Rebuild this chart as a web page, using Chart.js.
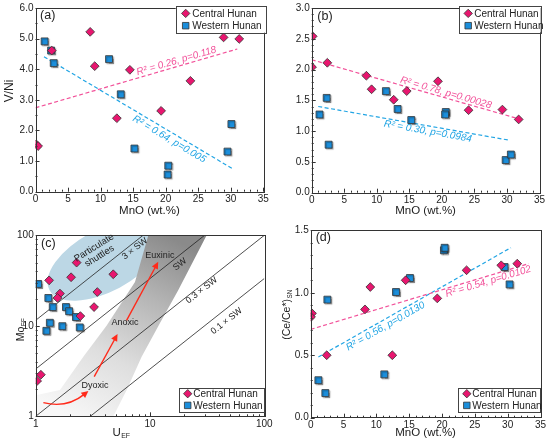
<!DOCTYPE html>
<html>
<head>
<meta charset="utf-8">
<title>MnO vs V/Ni, U-Mo, Ce/Ce*</title>
<script src="https://cdn.jsdelivr.net/npm/chart.js@4.4.1/dist/chart.umd.min.js"></script>
<style>
  html, body { margin: 0; padding: 0; background: #fff; }
  #fig { position: relative; width: 550px; height: 444px; }
  .panel { position: absolute; width: 275px; height: 222px; }
</style>
</head>
<body>
<div id="fig">
  <div class="panel" style="left:0;top:0"><canvas id="chartA"></canvas></div>
  <div class="panel" style="left:275px;top:0"><canvas id="chartB"></canvas></div>
  <div class="panel" style="left:0;top:222px"><canvas id="chartC"></canvas></div>
  <div class="panel" style="left:275px;top:222px"><canvas id="chartD"></canvas></div>
</div>
<script>
/* ---------- data ---------- */

/* (a) V/Ni vs MnO */
const a_central_mno = [0.1, 0.4, 2.5, 8.4, 9.1, 12.5, 14.5, 19.3, 23.8, 28.9, 31.3];
const a_central_vni = [1.55, 1.49, 4.61, 5.22, 4.10, 2.40, 3.98, 2.64, 3.62, 5.04, 4.99];
const a_western_mno = [1.4, 2.4, 2.8, 11.3, 13.1, 15.2, 20.4, 20.3, 29.5, 30.1];
const a_western_vni = [4.91, 4.61, 4.20, 4.33, 3.18, 1.41, 0.85, 0.56, 1.31, 2.21];
const a_fit_central_x = [0, 31.0];
const a_fit_central_y = [2.74, 4.66];
const a_fit_western_x = [1.3, 30.2];
const a_fit_western_y = [4.41, 0.76];

/* (b) */
const b_central_mno = [0.15, 0.05, 2.4, 8.4, 9.2, 12.6, 14.6, 19.4, 24.1, 29.3, 31.8];
const b_central_val = [2.54, 2.04, 2.11, 1.90, 1.68, 1.51, 1.65, 1.81, 1.34, 1.35, 1.19];
const b_western_mno = [1.2, 2.3, 2.6, 11.4, 13.2, 15.3, 20.6, 20.5, 29.8, 30.6];
const b_western_val = [1.27, 1.54, 0.78, 1.65, 1.36, 1.18, 1.31, 1.27, 0.53, 0.62];
const b_fit_central_x = [0, 31.8];
const b_fit_central_y = [2.16, 1.20];
const b_fit_western_x = [1.0, 30.5];
const b_fit_western_y = [1.40, 0.85];

/* (c) Mo_EF vs U_EF */
const c_central_u = [2.28, 2.04, 4.77, 1.31, 1.63, 1.55, 3.46, 3.24, 2.46, 1.11, 1.03];
const c_central_mo = [49.9, 34.4, 37.1, 31.8, 22.7, 20.3, 23.6, 16.1, 12.8, 2.88, 2.46];
const c_western_u = [1.05, 1.29, 1.41, 1.84, 1.96, 2.25, 2.43, 1.33, 1.24, 1.71];
const c_western_mo = [29.0, 20.3, 16.1, 16.1, 14.5, 12.5, 9.6, 10.8, 8.8, 9.9];
const c_sw_ratios = [11.5, 3.33, 1.0, 0.333];
const c_sw_names = ['3 × SW', 'SW', '0.3 × SW', '0.1 × SW'];
const c_tick_labels = [1, 10, 100];

/* (d) (Ce/Ce*)SN vs MnO */
const d_central_mno = [0.2, 0.05, 2.44, 8.27, 9.08, 12.43, 14.46, 19.28, 23.74, 29.02, 31.46];
const d_central_ce = [0.835, 0.806, 0.50, 0.867, 1.046, 0.50, 1.10, 0.955, 1.18, 1.22, 1.233];
const d_western_mno = [1.17, 2.23, 2.54, 11.21, 12.99, 15.12, 20.29, 20.40, 29.53, 30.29];
const d_western_ce = [0.30, 0.197, 0.945, 0.347, 1.006, 1.118, 1.34, 1.36, 1.206, 1.067];
const d_fit_central_x = [0, 33.2];
const d_fit_central_y = [0.707, 1.233];
const d_fit_western_x = [1.17, 30.5];
const d_fit_western_y = [0.486, 1.361];

/* ---------- styles ---------- */
const FONT = '"Liberation Sans", Arial, Helvetica, sans-serif';
const PINK = '#e8166f';
const BLUE = '#1b8edb';
const PINK_LINE = '#f2529a';
const BLUE_LINE = '#22a5e4';
const EDGE = '#333333';
const INK = '#222222';

function pts(xs, ys) {
  return xs.map((x, i) => ({ x: x, y: ys[i] }));
}

function centralSet(xs, ys) {
  return {
    label: 'Central Hunan', data: pts(xs, ys), pointStyle: 'rectRot',
    pointRadius: 4.4, pointHoverRadius: 4.4, backgroundColor: PINK,
    borderColor: EDGE, borderWidth: 0.8, order: 1,
  };
}

function westernSet(xs, ys) {
  return {
    label: 'Western Hunan', data: pts(xs, ys), pointStyle: 'rect',
    pointRadius: 4.9, pointHoverRadius: 4.9, backgroundColor: BLUE,
    borderColor: EDGE, borderWidth: 0.8, order: 2, shadow: true,
  };
}

function fitSet(xs, ys, color) {
  return {
    label: '', data: pts(xs, ys), showLine: true, borderColor: color,
    borderDash: [4, 2.5], borderWidth: 1.2, pointRadius: 0, order: 3,
  };
}

function linAxis(min, max, step, digits) {
  return {
    type: 'linear', min: min, max: max,
    grid: { display: false, drawTicks: false },
    border: { display: false },
    ticks: {
      stepSize: step, padding: 2, color: INK,
      font: { family: FONT, size: 10 },
      callback: (v) => v.toFixed(digits),
    },
  };
}

function logAxis() {
  return {
    type: 'logarithmic', min: 1, max: 100,
    grid: { display: false, drawTicks: false },
    border: { display: false },
    ticks: {
      autoSkip: false, maxRotation: 0, padding: 2, color: INK,
      font: { family: FONT, size: 10 },
      callback: (v) => (c_tick_labels.some((t) => Math.abs(t - v) < 1e-9) ? String(v) : ''),
    },
  };
}

/* ---------- plugins ---------- */

/* frame around the plot + inward ticks */
function tickValues(spec, min, max) {
  const out = [];
  if (spec.log) {
    for (let d = min; d < max - 1e-9; d *= 10) {
      for (let m = 1; m < 10; m++) out.push({ v: m * d, major: m === 1 });
    }
    out.push({ v: max, major: true });
  } else {
    const n = Math.round((max - min) / spec.minor);
    for (let i = 0; i <= n; i++) {
      const v = min + i * spec.minor;
      const r = v / spec.major;
      out.push({ v: v, major: Math.abs(r - Math.round(r)) < 1e-6 });
    }
  }
  return out;
}

const frameTicks = {
  id: 'frameTicks',
  afterDatasetsDraw(chart, args, o) {
    const ctx = chart.ctx;
    const a = chart.chartArea;
    ctx.save();
    ctx.strokeStyle = EDGE;
    ctx.lineWidth = 1;
    ['x', 'y'].forEach((k) => {
      const sc = chart.scales[k];
      tickValues(o[k], sc.min, sc.max).forEach((t) => {
        const p = Math.round(sc.getPixelForValue(t.v)) + 0.5;
        const len = t.major ? 4 : 2;
        ctx.beginPath();
        if (k === 'x') {
          ctx.moveTo(p, a.bottom);
          ctx.lineTo(p, a.bottom - len);
        } else {
          ctx.moveTo(a.left, p);
          ctx.lineTo(a.left + len, p);
        }
        ctx.stroke();
      });
    });
    ctx.strokeRect(Math.round(a.left) + 0.5, Math.round(a.top) + 0.5,
      Math.round(a.right - a.left), Math.round(a.bottom - a.top));
    ctx.restore();
  },
};

/* soft drop shadow under the square markers */
const markerShadow = {
  id: 'markerShadow',
  beforeDatasetDraw(chart, args) {
    if (!chart.data.datasets[args.index].shadow) return;
    const ctx = chart.ctx;
    ctx.save();
    ctx.shadowColor = 'rgba(0,0,0,0.35)';
    ctx.shadowOffsetX = 1.2;
    ctx.shadowOffsetY = 1.2;
    ctx.shadowBlur = 1;
  },
  afterDatasetDraw(chart, args) {
    if (!chart.data.datasets[args.index].shadow) return;
    chart.ctx.restore();
  },
};

/* text: regression labels, panel letters, region names */
function lineAngle(chart, d0, d1) {
  const sx = chart.scales.x, sy = chart.scales.y;
  return Math.atan2(sy.getPixelForValue(d1.y) - sy.getPixelForValue(d0.y),
    sx.getPixelForValue(d1.x) - sx.getPixelForValue(d0.x));
}

const notes = {
  id: 'notes',
  afterDatasetsDraw(chart, args, o) {
    const ctx = chart.ctx;
    const a = chart.chartArea;
    const sx = chart.scales.x, sy = chart.scales.y;
    (o.items || []).forEach((n) => {
      let x, y, ang = 0, off = 0;
      if (n.fit !== undefined) {
        const d = chart.data.datasets[n.fit].data;
        const t = (n.at - d[0].x) / (d[1].x - d[0].x);
        x = sx.getPixelForValue(d[0].x + t * (d[1].x - d[0].x));
        y = sy.getPixelForValue(d[0].y + t * (d[1].y - d[0].y));
        ang = lineAngle(chart, d[0], d[1]);
        off = n.offset || 0;
      } else if (n.px !== undefined) {
        x = a.left + n.px;
        y = a.top + n.py;
      } else {
        x = sx.getPixelForValue(n.x);
        y = sy.getPixelForValue(n.y);
        if (n.rot === 'unit') ang = lineAngle(chart, { x: 1, y: 1 }, { x: 10, y: 10 });
        else ang = ((n.rot || 0) * Math.PI) / 180;
      }
      ctx.save();
      ctx.translate(x, y);
      ctx.rotate(ang);
      ctx.font = (n.italic ? 'italic ' : '') + n.size + 'px ' + FONT;
      ctx.fillStyle = n.color || INK;
      ctx.textAlign = 'center';
      ctx.textBaseline = 'middle';
      const lines = n.text.split('\n');
      lines.forEach((ln, i) => {
        ctx.fillText(ln, 0, off + (i - (lines.length - 1) / 2) * n.size * 1.05);
      });
      ctx.restore();
    });
  },
};

/* axis titles, with optional subscript */
function drawSub(ctx, main, sub, size, x, y, rot) {
  ctx.save();
  ctx.translate(x, y);
  ctx.rotate(rot);
  ctx.fillStyle = INK;
  ctx.textBaseline = 'middle';
  ctx.textAlign = 'left';
  ctx.font = size + 'px ' + FONT;
  const wm = ctx.measureText(main).width;
  const subSize = size * 0.6;
  ctx.font = subSize + 'px ' + FONT;
  const ws = sub ? ctx.measureText(sub).width : 0;
  const x0 = -(wm + ws) / 2;
  ctx.font = size + 'px ' + FONT;
  ctx.fillText(main, x0, 0);
  if (sub) {
    ctx.font = subSize + 'px ' + FONT;
    ctx.fillText(sub, x0 + wm + 0.5, size * 0.32);
  }
  ctx.restore();
}

const axisTitles = {
  id: 'axisTitles',
  afterDraw(chart, args, o) {
    const ctx = chart.ctx;
    const a = chart.chartArea;
    if (o.x) drawSub(ctx, o.x.main, o.x.sub, o.x.size, o.x.cx !== undefined ? o.x.cx : (a.left + a.right) / 2, o.x.cy, 0);
    if (o.y) drawSub(ctx, o.y.main, o.y.sub, o.y.size, o.y.cx, o.y.cy, -Math.PI / 2);
  },
};

/* boxed legend inside the plot */
function drawMarker(ctx, style, x, y, r, fill) {
  ctx.beginPath();
  if (style === 'rectRot') {
    ctx.moveTo(x, y - r); ctx.lineTo(x + r, y); ctx.lineTo(x, y + r); ctx.lineTo(x - r, y);
    ctx.closePath();
  } else {
    const h = r * Math.SQRT1_2;
    ctx.rect(x - h, y - h, 2 * h, 2 * h);
  }
  ctx.fillStyle = fill;
  ctx.fill();
  ctx.lineWidth = 0.8;
  ctx.strokeStyle = EDGE;
  ctx.stroke();
}

const boxLegend = {
  id: 'boxLegend',
  afterDraw(chart, args, o) {
    const ctx = chart.ctx;
    const a = chart.chartArea;
    const right = a.right + o.dx;
    const top = o.corner === 'tr' ? a.top + o.dy : a.bottom - o.dy - o.h;
    const left = right - o.w;
    ctx.save();
    ctx.fillStyle = '#fff';
    ctx.fillRect(left, top, o.w, o.h);
    ctx.strokeStyle = '#444';
    ctx.lineWidth = 1;
    ctx.strokeRect(Math.round(left) + 0.5, Math.round(top) + 0.5, Math.round(o.w), Math.round(o.h));
    const sets = chart.data.datasets.filter((d) => d.label);
    sets.forEach((ds, i) => {
      const cy = top + o.row0 + i * o.gap;
      drawMarker(ctx, ds.pointStyle, left + o.mx, cy, ds.pointStyle === 'rectRot' ? 4.2 : 4.6, ds.backgroundColor);
      ctx.fillStyle = INK;
      ctx.font = '10px ' + FONT;
      ctx.textAlign = 'left';
      ctx.textBaseline = 'middle';
      ctx.fillText(ds.label, left + o.tx, cy + 0.5);
    });
    ctx.restore();
  },
};

/* (c) particulate-shuttle ellipse, redox band and red arrows */
const c_band_left = [[1, 1], [1, 1.71], [1.63, 1.95], [2.61, 4.56], [4.18, 10.1], [7.39, 30.5], [9.67, 100]];
const c_band_right = [[31.3, 100], [17.7, 24.9], [12.2, 10.7], [8.45, 4.56], [6.25, 1.95], [4.78, 1]];
const c_arrows = [
  [[1.167, 1.416], [1.866, 1.215], [2.89, 1.906]],
  [[3.25, 2.75], [5.2, 8.1]],
  [[6.24, 11.5], [11.8, 50.9]],
];

function arrowHead(ctx, x, y, ang) {
  const L = 7, W = 3.4;
  ctx.beginPath();
  ctx.moveTo(x, y);
  ctx.lineTo(x - L * Math.cos(ang) + W * Math.sin(ang), y - L * Math.sin(ang) - W * Math.cos(ang));
  ctx.lineTo(x - L * Math.cos(ang) - W * Math.sin(ang), y - L * Math.sin(ang) + W * Math.cos(ang));
  ctx.closePath();
  ctx.fill();
}

const redoxRegions = {
  id: 'redoxRegions',
  beforeDatasetsDraw(chart) {
    const ctx = chart.ctx;
    const a = chart.chartArea;
    const sx = chart.scales.x, sy = chart.scales.y;
    const P = (p) => [sx.getPixelForValue(p[0]), sy.getPixelForValue(p[1])];
    ctx.save();
    ctx.beginPath();
    ctx.rect(a.left, a.top, a.right - a.left, a.bottom - a.top);
    ctx.clip();

    /* particulate shuttles ellipse */
    const ec = P([4.04, 52.8]);
    ctx.beginPath();
    ctx.ellipse(ec[0], ec[1], 63, 31, (-28 * Math.PI) / 180, 0, 2 * Math.PI);
    ctx.fillStyle = '#bcd7e5';
    ctx.fill();

    /* gray redox band */
    const poly = c_band_left.concat(c_band_right).map(P);
    ctx.beginPath();
    ctx.moveTo(poly[0][0], poly[0][1]);
    for (let i = 1; i < poly.length; i++) ctx.lineTo(poly[i][0], poly[i][1]);
    ctx.closePath();
    const g0 = P([2, 1]), g1 = P([14, 100]);
    const grad = ctx.createLinearGradient(g0[0], g0[1], g1[0], g1[1]);
    grad.addColorStop(0, '#f7f7f7');
    grad.addColorStop(0.35, '#dedede');
    grad.addColorStop(0.7, '#b4b4b4');
    grad.addColorStop(1, '#8a8a8a');
    ctx.fillStyle = grad;
    ctx.fill();
    ctx.restore();
  },
  afterDatasetsDraw(chart) {
    const ctx = chart.ctx;
    const sx = chart.scales.x, sy = chart.scales.y;
    const P = (p) => [sx.getPixelForValue(p[0]), sy.getPixelForValue(p[1])];
    ctx.save();
    ctx.strokeStyle = '#ff2a1a';
    ctx.fillStyle = '#ff2a1a';
    ctx.lineWidth = 1.4;
    c_arrows.forEach((arr) => {
      const p = arr.map(P);
      const last = p[p.length - 1], prev = p[p.length - 2];
      const ang = Math.atan2(last[1] - prev[1], last[0] - prev[0]);
      const ex = last[0] - 5 * Math.cos(ang), ey = last[1] - 5 * Math.sin(ang);
      ctx.beginPath();
      ctx.moveTo(p[0][0], p[0][1]);
      if (p.length === 3) ctx.quadraticCurveTo(p[1][0], p[1][1], ex, ey);
      else ctx.lineTo(ex, ey);
      ctx.stroke();
      arrowHead(ctx, last[0], last[1], ang);
    });
    ctx.restore();
  },
};

/* ---------- chart builder ---------- */
function makeChart(id, datasets, xAxis, yAxis, box, plugOpts, extraPlugins) {
  xAxis.afterFit = (s) => { s.height = 222 - box.bottom; };
  yAxis.afterFit = (s) => { s.width = box.left; };
  const pluginOptions = Object.assign({
    legend: { display: false },
    tooltip: { enabled: false },
  }, plugOpts);
  return new Chart(document.getElementById(id), {
    type: 'scatter',
    data: { datasets: datasets },
    options: {
      responsive: true,
      maintainAspectRatio: false,
      animation: false,
      events: [],
      layout: { padding: { left: 0, top: box.top, right: 275 - box.right, bottom: 0 } },
      scales: { x: xAxis, y: yAxis },
      plugins: pluginOptions,
    },
    plugins: [markerShadow].concat(extraPlugins || [], [frameTicks, notes, axisTitles, boxLegend]),
  });
}

const mnoTitle = { main: 'MnO (wt.%)', sub: '', size: 11.5, cy: 210.5 };

/* (a) */
makeChart('chartA', [
  centralSet(a_central_mno, a_central_vni),
  westernSet(a_western_mno, a_western_vni),
  fitSet(a_fit_central_x, a_fit_central_y, PINK_LINE),
  fitSet(a_fit_western_x, a_fit_western_y, BLUE_LINE),
], linAxis(0, 35, 5, 0), linAxis(0, 6, 1, 1),
{ left: 35.5, right: 263.3, top: 7.3, bottom: 191.7 }, {
  frameTicks: { x: { major: 5, minor: 1 }, y: { major: 1, minor: 0.5 } },
  notes: { items: [
    { text: '(a)', px: 12.2, py: 7.9, size: 12.5 },
    { text: 'R² = 0.26, p=0.118', fit: 2, at: 21.9, offset: -5.5, size: 10, italic: true, color: PINK_LINE },
    { text: 'R² = 0.64, p=0.005', fit: 3, at: 21.1, offset: 7, size: 10, italic: true, color: BLUE_LINE },
  ] },
  axisTitles: { x: mnoTitle, y: { main: 'V/Ni', sub: '', size: 12, cx: 10, cy: 91 } },
  boxLegend: { corner: 'tr', dx: 2.4, dy: -2.3, w: 90, h: 27, mx: 10, tx: 16.6, row0: 7.7, gap: 12.3 },
});

/* (b) */
makeChart('chartB', [
  centralSet(b_central_mno, b_central_val),
  westernSet(b_western_mno, b_western_val),
  fitSet(b_fit_central_x, b_fit_central_y, PINK_LINE),
  fitSet(b_fit_western_x, b_fit_western_y, BLUE_LINE),
], linAxis(0, 35, 5, 0), linAxis(0, 3, 0.5, 1),
{ left: 36.7, right: 264.5, top: 7.3, bottom: 192.7 }, {
  frameTicks: { x: { major: 5, minor: 1 }, y: { major: 0.5, minor: 0.1 } },
  notes: { items: [
    { text: '(b)', px: 13.3, py: 8.7, size: 12.5 },
    { text: 'R² = 0.78, p=0.00028', fit: 2, at: 20.4, offset: -5, size: 10, italic: true, color: PINK_LINE },
    { text: 'R² = 0.30, p=0.0984', fit: 3, at: 18, offset: 5.5, size: 10, italic: true, color: BLUE_LINE },
  ] },
  axisTitles: { x: { main: 'MnO (wt.%)', sub: '', size: 11.5, cy: 210.7 } },
  boxLegend: { corner: 'tr', dx: 1.2, dy: -2.3, w: 81.5, h: 26.7, mx: 9, tx: 15, row0: 7.7, gap: 12.3 },
});

/* (c) */
const c_sets = [
  centralSet(c_central_u, c_central_mo),
  westernSet(c_western_u, c_western_mo),
];
c_sw_ratios.forEach((k) => {
  c_sets.push({
    label: '', data: pts([1, 100], [k, 100 * k]), showLine: true,
    borderColor: '#222', borderWidth: 0.8, pointRadius: 0, order: 4,
  });
});
const c_sw_label_pos = [[7.39, 71.2], [18.3, 47.8], [28.3, 24.7], [46.8, 11.3]];
makeChart('chartC', c_sets, logAxis(), logAxis(),
{ left: 35.7, right: 264.3, top: 13.3, bottom: 194.3 }, {
  frameTicks: { x: { log: true }, y: { log: true } },
  notes: { items: [
    { text: '(c)', px: 12.6, py: 8.4, size: 12.5 },
    { text: 'Particulate\nshuttles', x: 3.42, y: 65.4, rot: -32, size: 9.5 },
    { text: 'Euxinic', x: 12.2, y: 60.1, size: 9 },
    { text: 'Anoxic', x: 6.04, y: 11.0, size: 9 },
    { text: 'Dyoxic', x: 3.30, y: 2.20, size: 9 },
  ].concat(c_sw_names.map((name, i) => ({
    text: name, x: c_sw_label_pos[i][0], y: c_sw_label_pos[i][1], rot: 'unit', size: 9,
  }))) },
  axisTitles: {
    x: { main: 'U', sub: 'EF', size: 11.5, cx: 121, cy: 210.5 },
    y: { main: 'Mo', sub: 'EF', size: 10.5, cx: 21, cy: 108 },
  },
  boxLegend: { corner: 'br', dx: 0, dy: 4.3, w: 85.3, h: 24.3, mx: 8.7, tx: 14.3, row0: 6, gap: 11.7 },
}, [redoxRegions]);

/* (d) */
makeChart('chartD', [
  centralSet(d_central_mno, d_central_ce),
  westernSet(d_western_mno, d_western_ce),
  fitSet(d_fit_central_x, d_fit_central_y, PINK_LINE),
  fitSet(d_fit_western_x, d_fit_western_y, BLUE_LINE),
], linAxis(0, 35, 5, 0), linAxis(0, 1.5, 0.5, 1),
{ left: 35.7, right: 265.5, top: 8.3, bottom: 195.7 }, {
  frameTicks: { x: { major: 5, minor: 1 }, y: { major: 0.5, minor: 0.1 } },
  notes: { items: [
    { text: '(d)', px: 12.6, py: 7.4, size: 12.5 },
    { text: 'R² = 0.54, p=0.0102', fit: 2, at: 26.8, offset: 5.5, size: 10, italic: true, color: PINK_LINE },
    { text: 'R² = 0.56, p=0.0130', fit: 3, at: 10.9, offset: 6.5, size: 10, italic: true, color: BLUE_LINE },
  ] },
  axisTitles: {
    x: { main: 'MnO (wt.%)', sub: '', size: 11.5, cy: 210.7 },
    y: { main: '(Ce/Ce*)', sub: 'SN', size: 10.5, cx: 12, cy: 93 },
  },
  boxLegend: { corner: 'br', dx: 0.2, dy: 5.7, w: 82.4, h: 24.3, mx: 8.5, tx: 14, row0: 6, gap: 11.7 },
});
</script>
</body>
</html>
